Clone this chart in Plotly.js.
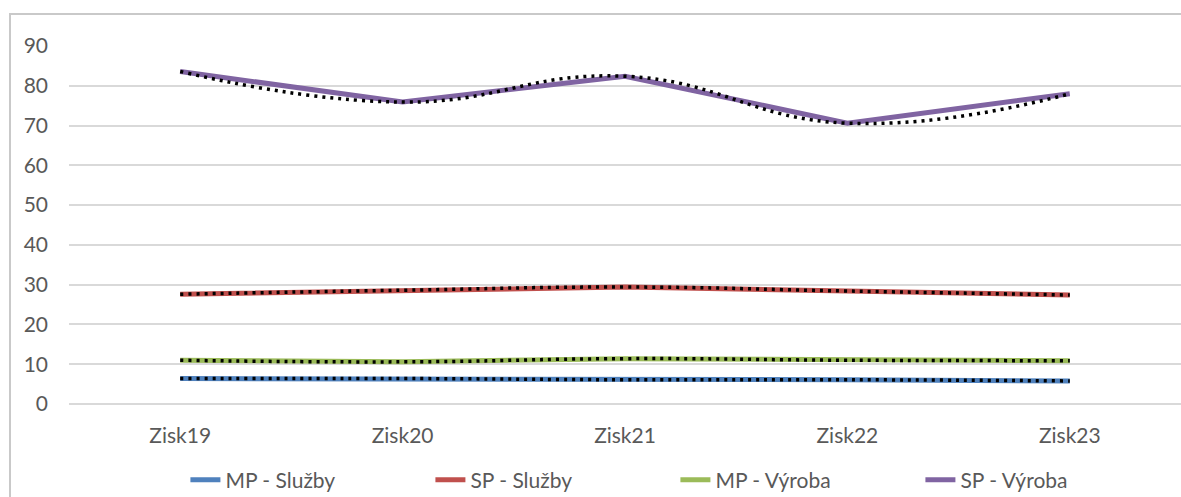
<!DOCTYPE html>
<html>
<head>
<meta charset="utf-8">
<script src="https://cdn.plot.ly/plotly-3.0.1.min.js"></script>
<style>
  html, body { margin: 0; padding: 0; background: #ffffff; overflow: hidden; }
  #frame { position: absolute; left: 9px; top: 13px; width: 1300px; height: 600px;
           border-left: 2px solid #c9c9c9; border-top: 2px solid #c9c9c9; }
  #chart { position: absolute; left: 0; top: 0; width: 1181px; height: 497px; }
</style>
</head>
<body>
<div id="frame"></div>
<div id="chart"></div>
<script>
// Data
const categories = ["Zisk19", "Zisk20", "Zisk21", "Zisk22", "Zisk23"];
const seriesNames = ["MP - Služby", "SP - Služby", "MP - Výroba", "SP - Výroba"];
const mpSluzby = [6.4, 6.4, 6.1, 6.1, 5.8];
const spSluzby = [27.6, 28.6, 29.4, 28.4, 27.4];
const mpVyroba = [11.0, 10.6, 11.4, 11.0, 10.9];
const spVyroba = [83.6, 75.9, 82.4, 70.6, 78.0];
const yTicks = [0, 10, 20, 30, 40, 50, 60, 70, 80, 90];

const colors = ["#4F81BD", "#C0504D", "#9BBB59", "#8064A2"];
const allValues = [mpSluzby, spSluzby, mpVyroba, spVyroba];
const FONT = "Lato, 'Open Sans', sans-serif";

const traces = [];
allValues.forEach((vals, i) => {
  traces.push({
    type: "scatter", mode: "lines", x: categories, y: vals, name: seriesNames[i],
    line: { color: colors[i], width: 5 }, hoverinfo: "skip"
  });
});
// polynomial-style trendlines (dotted, black) drawn as smooth curves through the data
allValues.forEach((vals, i) => {
  traces.push({
    type: "scatter", mode: "lines", x: categories, y: vals, showlegend: false,
    line: { color: "#000000", width: 3.5, dash: "3px,5px", shape: "spline", smoothing: 1.3 },
    hoverinfo: "skip"
  });
});

const layout = {
  width: 1181, height: 497,
  margin: { l: 69, r: 0, t: 46, b: 93 },
  paper_bgcolor: "rgba(0,0,0,0)", plot_bgcolor: "rgba(0,0,0,0)",
  font: { family: FONT, size: 21, color: "#595959" },
  showlegend: true,
  legend: {
    orientation: "h", xref: "container", yref: "container",
    x: 0.157, xanchor: "left", y: 0.034, yanchor: "middle",
    entrywidth: 200, entrywidthmode: "pixels",
    font: { family: FONT, size: 21, color: "#595959" },
    bgcolor: "rgba(0,0,0,0)", traceorder: "normal"
  },
  xaxis: {
    type: "category", range: [-0.5, 4.5], showgrid: false, zeroline: false,
    showline: false, ticks: "", ticklabelstandoff: 17,
    tickfont: { family: FONT, size: 21, color: "#595959" }, fixedrange: true
  },
  yaxis: {
    range: [0, 90], tickvals: yTicks, ticktext: yTicks.map(String),
    showgrid: true, gridcolor: "#d9d9d9", gridwidth: 2,
    zeroline: true, zerolinecolor: "#d9d9d9", zerolinewidth: 2,
    showline: false, ticks: "", ticklabelstandoff: 20,
    tickfont: { family: FONT, size: 21, color: "#595959" }, fixedrange: true
  }
};

Plotly.newPlot("chart", traces, layout, { displayModeBar: false, staticPlot: true });
</script>
</body>
</html>
